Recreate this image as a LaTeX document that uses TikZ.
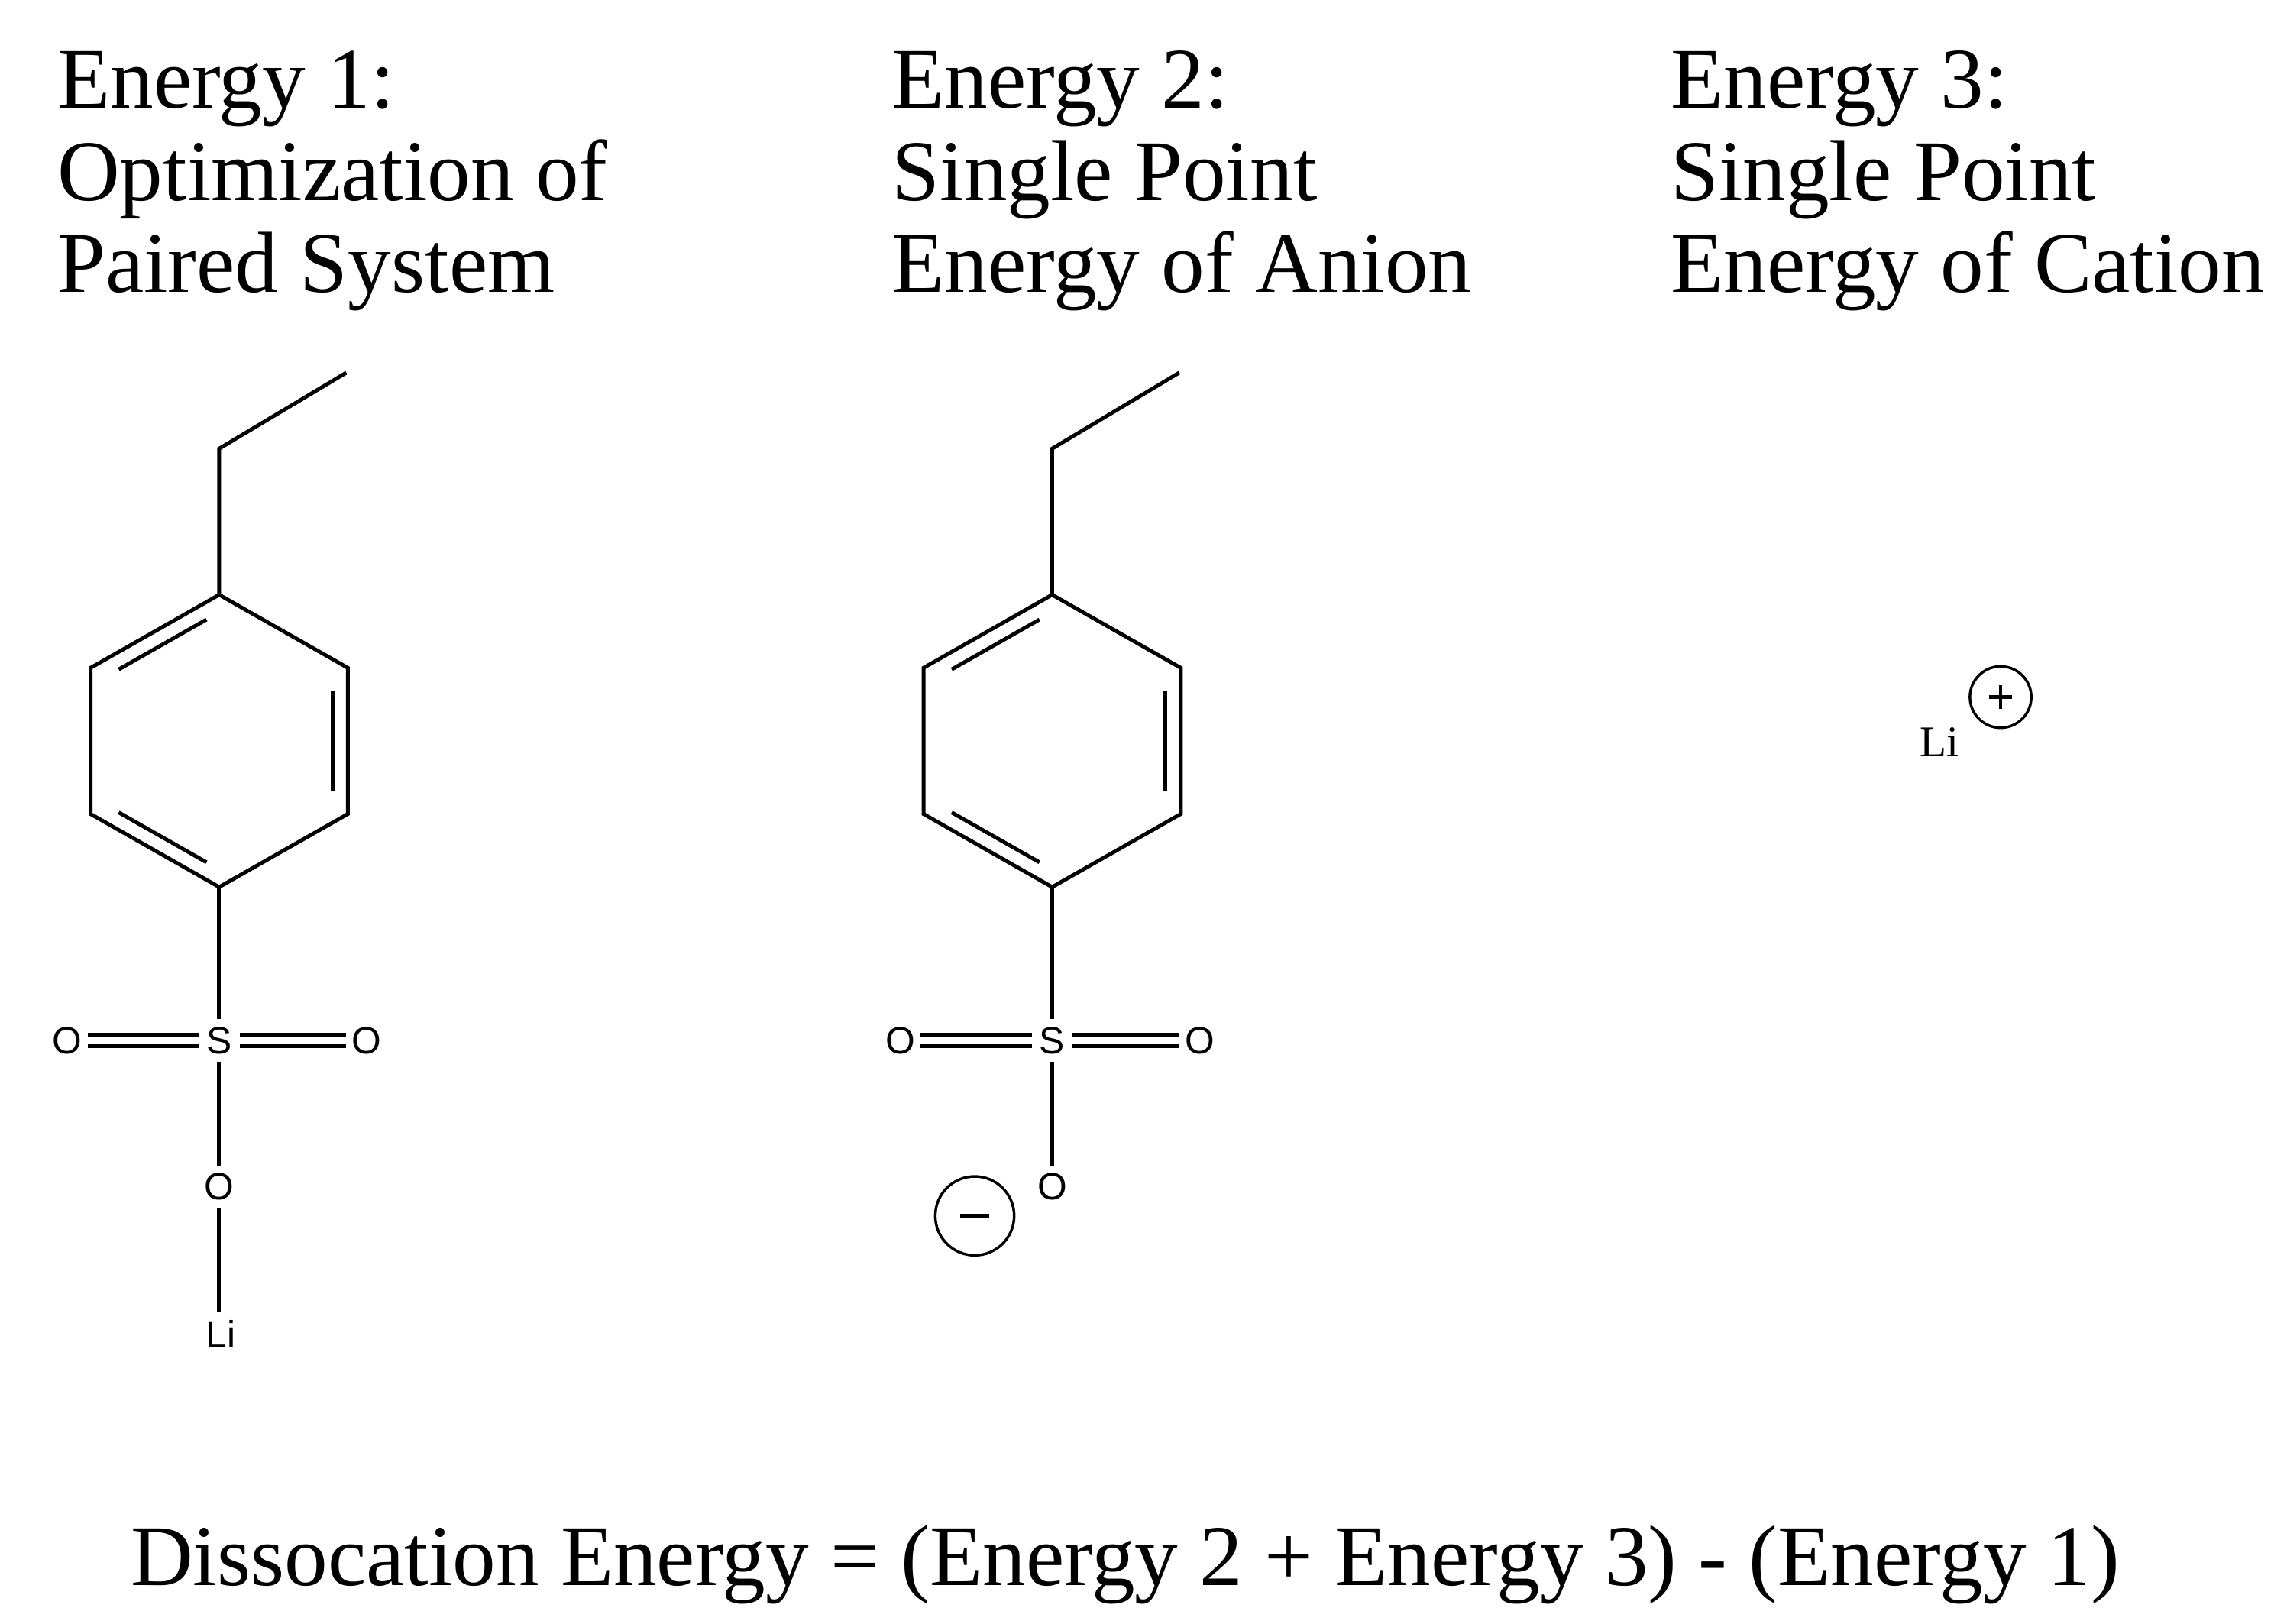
\documentclass[tikz,border=0pt]{standalone}
\usepackage{fontspec}
\setmainfont{Liberation Serif}
\newfontfamily\atomfont{Liberation Sans}
\usetikzlibrary{calc}
\begin{document}
\begin{tikzpicture}[x=0.5pt,y=-0.5pt,line width=1.3pt,
  title/.style={anchor=base west,align=left,font=\fontsize{29.6}{31.5}\selectfont,inner sep=0},
  atom/.style={font=\atomfont\fontsize{13}{13}\selectfont,inner sep=2pt},
  chg/.style={circle,draw,line width=0.9pt,inner sep=0}]
\useasboundingbox (0,0) rectangle (1565,1111);
\node[title] (t1) at (38,200) {Energy 1:\\Optimization of\\Paired System};
\node[title] (t2) at (609,200) {Energy 2:\\Single Point\\Energy of Anion};
\node[title] (t3) at (1142,200) {Energy 3:\\Single Point\\Energy of Cation};
\node[anchor=base,font=\fontsize{29.6}{31}\selectfont,inner sep=0] (eq) at (770,1085) {Dissocation Energy = (Energy 2 + Energy 3) - (Energy 1)};
\foreach \dx/\m in {0/a,570/b}{
  \begin{scope}[xshift=\dx*0.5pt]
  \coordinate (\m e) at (237,255);
  \coordinate (\m m) at (150,307);
  \coordinate (\m v1) at (150,407);
  \coordinate (\m v2) at (238,457);
  \coordinate (\m v3) at (238,557);
  \coordinate (\m v4) at (150,607);
  \coordinate (\m v5) at (62,557);
  \coordinate (\m v6) at (62,457);
  \coordinate (\m c) at (150,507);
  \draw (\m e) -- (\m m) -- (\m v1);
  \draw (\m v1) -- (\m v2) -- (\m v3) -- (\m v4) -- (\m v5) -- (\m v6) -- cycle;
  \foreach \p/\q in {v1/v6,v2/v3,v4/v5}{
    \draw[shorten <=5pt,shorten >=5pt] ($(\m c)!0.88!(\m\p)$) -- ($(\m c)!0.88!(\m\q)$);}
  \node[atom] (\m S) at (150,712) {S};
  \node[atom] (\m OL) at (46,712) {O};
  \node[atom] (\m OR) at (251,712) {O};
  \node[atom] (\m OB) at (150,812) {O};
  \draw (\m v4) -- (\m S);
  \draw (\m S) -- (\m OB);
  \foreach \o in {OL,OR}{
    \draw ($(\m S)!7pt!(\m\o)+(0,-4)$) -- ($(\m\o)!7pt!(\m S)+(0,-4)$);
    \draw ($(\m S)!7pt!(\m\o)+(0,4)$) -- ($(\m\o)!7pt!(\m S)+(0,4)$);}
  \end{scope}}
\node[atom] (aLi) at (151,913) {Li};
\draw (aOB) -- (aOB |- aLi.north);
\node[chg,minimum size=27pt] (minus) at (667,832) {};
\draw[line width=1.2pt] ($(minus.center)+(-10,0)$) -- ($(minus.center)+(10,0)$);
\node[font=\fontsize{15}{15}\selectfont,inner sep=0] (Li) at (1327,508) {Li};
\node[chg,minimum size=21pt] (plus) at (1369,477) {};
\draw[line width=1.1pt] ($(plus.center)+(-8,0)$) -- ($(plus.center)+(8,0)$);
\draw[line width=1.1pt] ($(plus.center)+(0,-8)$) -- ($(plus.center)+(0,8)$);
\end{tikzpicture}
\end{document}
